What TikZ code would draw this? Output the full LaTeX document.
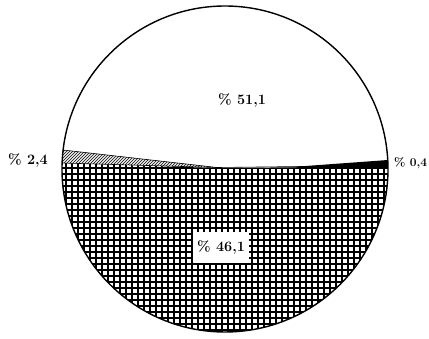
\documentclass[tikz,border=0pt]{standalone}
\usepackage{tikz}
\usetikzlibrary{patterns}

\begin{document}
\begin{tikzpicture}[
        x=1pt, y=-1pt,
        share/.style={
            font=\Large\bfseries,
            inner sep=1pt
        },
        sharebox/.style={
            font=\Large\bfseries,
            fill=white,
            minimum width=56pt,
            minimum height=31pt
        },
        rim/.style={line width=1.4pt},
        edge/.style={line width=0.6pt}
    ]
        \useasboundingbox (0,0) rectangle (429,338);

        % crosshatched lower part
        \begin{scope}
            \clip (225,169) circle[radius=163pt];
            \clip (0,161) -- (217,168) -- (429,166) -- (429,338) -- (0,338) -- cycle;
            \draw[line width=1.4pt, step=6pt] (50,150) grid (400,340);
        \end{scope}

        % hatched wedge on the left
        \begin{scope}
            \clip (225,169) circle[radius=163pt];
            \fill[pattern=north east lines] (0,143) -- (217,167.5) -- (0,161) -- cycle;
            \fill[pattern=north east lines, pattern color=black!80] (0,143) -- (217,167.5) -- (0,161) -- cycle;
        \end{scope}

        % black wedge on the right
        \begin{scope}
            \clip (225,169) circle[radius=163pt];
            \fill (285,167.5) -- (429,157) -- (429,166.5) -- cycle;
        \end{scope}

        \coordinate (hl) at (63,150);
        \coordinate (ll) at (62,163);
        \coordinate (mid) at (217,167.5);
        \coordinate (rr) at (388,165.5);
        \draw[edge] (hl) -- (mid);
        \draw[edge] (ll) -- (mid) -- (rr);

        \draw[rim] (225,169) circle[radius=163pt];

        \node[share] (upper) at (242,100) {\% 51,1};
        \node[share] (left) at (28,160) {\% 2,4};
        \node[share, font=\large\bfseries, anchor=west] (right) at (393,163) {\% 0,4};
        \node[sharebox] (lower) at (221,247) {\% 46,1};
    \end{tikzpicture}
\end{document}
